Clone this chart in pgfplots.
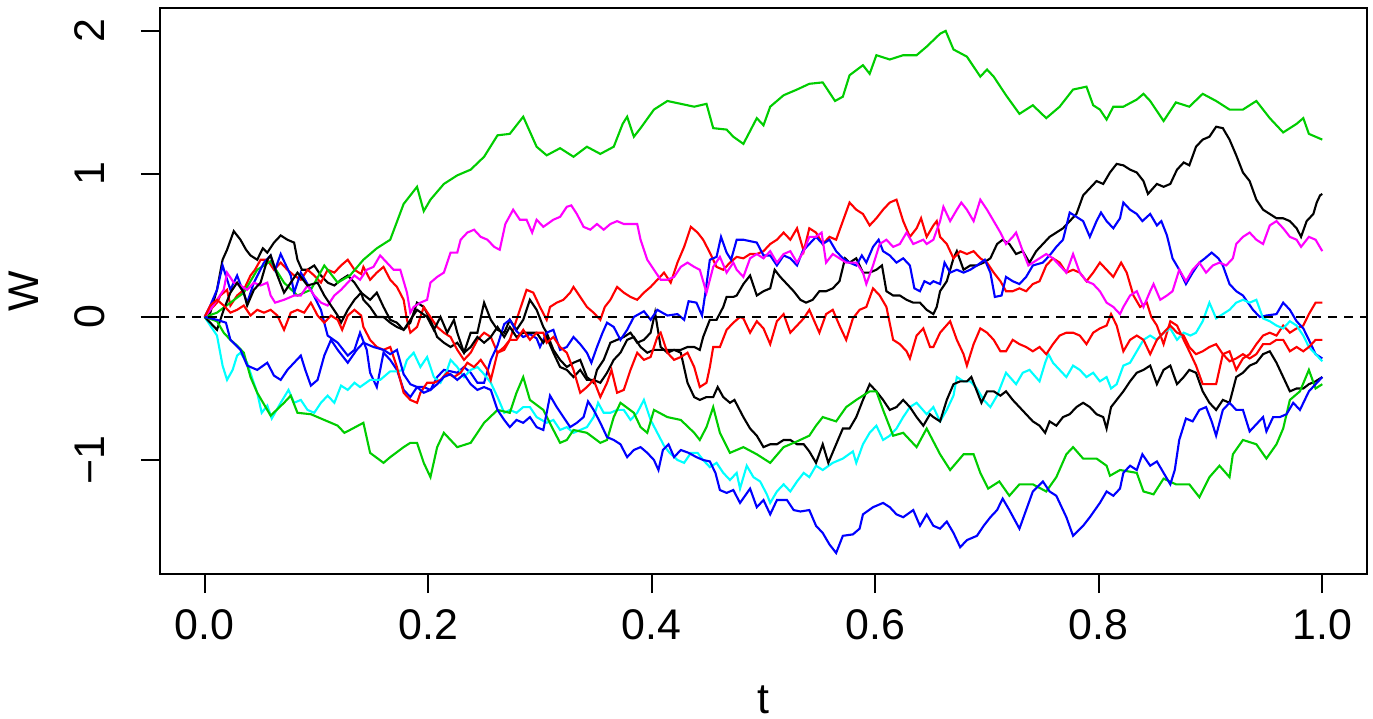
\documentclass[border=0pt]{standalone}
\usepackage{fontspec}
\setmainfont{Liberation Sans}
\usepackage{pgfplots}
\pgfplotsset{compat=1.18}
\definecolor{green3}{RGB}{0,205,0}
\definecolor{rcyan}{RGB}{0,255,255}
\definecolor{rmagenta}{RGB}{255,0,255}
\definecolor{rred}{RGB}{255,0,0}
\definecolor{rblue}{RGB}{0,0,255}

\begin{document}
\begin{tikzpicture}
\begin{axis}[
    name=ax,
    scale only axis,
    width=12.07cm, height=5.66cm,
    xmin=-0.04, xmax=1.04, ymin=-1.797, ymax=2.16,
    axis line style={line width=0.6pt},
    tick align=outside,
    major tick length=0.19cm,
    tick style={line width=0.6pt, black},
    xtick pos=bottom, ytick pos=left,
    xtick={0,0.2,0.4,0.6,0.8,1},
    xticklabels={0.0,0.2,0.4,0.6,0.8,1.0},
    ytick={-1,0,1,2},
    yticklabels={−1,0,1,2},
    ticklabel style={font=\fontsize{12.2pt}{14pt}\selectfont},
    xticklabel style={anchor=north, inner sep=0pt, yshift=-0.16cm},
    yticklabel style={xshift=-0.36cm, rotate=90, anchor=base, inner sep=0pt},
    xlabel={t}, ylabel={W},
    label style={font=\fontsize{12.2pt}{14pt}\selectfont},
    xlabel style={at={(axis description cs:0.5,-0.247)}, anchor=base, inner sep=0pt},
    ylabel style={at={(axis description cs:-0.1003,0.5)}, anchor=base, inner sep=0pt},
    every axis plot/.append style={line width=0.6pt},
]
% black 1
\addplot[black] coordinates {
(0,0)(0.005,0.03)(0.011,0.19)(0.016,0.40)(0.020,0.47)(0.026,0.60)(0.032,0.54)(0.037,0.47)(0.041,0.43)(0.047,0.40)(0.052,0.48)(0.056,0.45)(0.062,0.52)(0.068,0.57)(0.074,0.54)(0.080,0.52)(0.083,0.40)(0.087,0.33)(0.092,0.33)(0.098,0.36)(0.104,0.29)(0.110,0.24)(0.116,0.22)(0.122,0.26)(0.128,0.29)(0.134,0.24)(0.140,0.17)(0.148,0.12)(0.154,0.17)(0.160,0.07)(0.166,-0.02)(0.172,-0.04)(0.178,-0.09)(0.184,-0.04)(0.190,0.10)(0.196,0.07)(0.202,-0.02)(0.208,-0.14)(0.214,-0.18)(0.220,-0.21)(0.226,-0.18)(0.232,-0.25)(0.238,-0.11)(0.244,-0.11)(0.250,0.10)(0.256,-0.02)(0.262,-0.09)(0.268,-0.11)(0.273,-0.02)(0.279,-0.09)(0.285,-0.02)(0.291,0.12)(0.297,0.05)(0.303,-0.07)(0.306,-0.11)(0.312,-0.23)(0.318,-0.30)(0.324,-0.35)(0.330,-0.32)(0.336,-0.30)(0.342,-0.42)(0.348,-0.46)(0.351,-0.37)(0.357,-0.30)(0.363,-0.18)(0.369,-0.16)(0.375,-0.14)(0.381,-0.11)(0.387,-0.18)(0.393,-0.16)(0.399,-0.11)(0.403,0.03)(0.408,-0.21)(0.414,-0.25)(0.420,-0.23)(0.426,-0.23)(0.432,-0.21)(0.438,-0.21)(0.443,-0.23)(0.446,-0.14)(0.452,-0.02)(0.458,-0.02)(0.464,0.07)(0.467,0.14)(0.473,0.14)(0.476,0.15)(0.482,0.23)(0.488,0.29)(0.494,0.15)(0.500,0.18)(0.506,0.20)(0.510,0.33)(0.515,0.28)(0.521,0.23)(0.527,0.18)(0.533,0.12)(0.538,0.10)(0.544,0.12)(0.550,0.18)(0.556,0.18)(0.562,0.20)(0.568,0.25)(0.573,0.41)(0.577,0.38)(0.583,0.41)(0.589,0.31)(0.595,0.31)(0.601,0.33)(0.606,0.36)(0.610,0.18)(0.616,0.15)(0.622,0.15)(0.628,0.12)(0.634,0.10)(0.640,0.10)(0.646,0.05)(0.652,0.02)(0.655,0.07)(0.658,0.18)(0.664,0.25)(0.670,0.41)(0.673,0.46)(0.679,0.33)(0.685,0.36)(0.691,0.36)(0.697,0.38)(0.703,0.41)(0.709,0.51)(0.714,0.54)(0.720,0.51)(0.726,0.44)(0.732,0.46)(0.738,0.38)(0.744,0.46)(0.750,0.51)(0.756,0.56)(0.762,0.59)(0.768,0.62)(0.774,0.67)(0.780,0.72)(0.786,0.85)(0.792,0.90)(0.798,0.95)(0.804,0.93)(0.810,1.01)(0.816,1.07)(0.822,1.06)(0.828,1.03)(0.834,1.01)(0.840,0.95)(0.844,0.86)(0.852,0.93)(0.858,0.91)(0.864,0.93)(0.870,1.03)(0.876,1.08)(0.881,1.06)(0.887,1.19)(0.893,1.24)(0.899,1.26)(0.905,1.33)(0.911,1.32)(0.917,1.24)(0.923,1.13)(0.929,1.01)(0.935,0.95)(0.941,0.82)(0.947,0.75)(0.953,0.72)(0.959,0.69)(0.965,0.69)(0.971,0.67)(0.977,0.62)(0.981,0.56)(0.986,0.67)(0.992,0.72)(0.995,0.80)(0.998,0.85)(1.000,0.86)
};
% red 1
\addplot[rred] coordinates {
(0,0)(0.005,0.05)(0.011,0.10)(0.014,0.15)(0.020,0.19)(0.023,0.08)(0.029,0.15)(0.035,0.19)(0.041,0.29)(0.045,0.33)(0.050,0.40)(0.056,0.40)(0.062,0.33)(0.068,0.38)(0.074,0.33)(0.080,0.29)(0.086,0.26)(0.092,0.33)(0.098,0.29)(0.104,0.24)(0.110,0.33)(0.116,0.31)(0.122,0.36)(0.128,0.40)(0.134,0.33)(0.140,0.30)(0.142,0.35)(0.148,0.26)(0.154,0.31)(0.160,0.35)(0.166,0.26)(0.172,0.21)(0.178,0.12)(0.181,-0.02)(0.184,-0.11)(0.190,-0.07)(0.196,0.07)(0.202,0.00)(0.208,-0.07)(0.214,-0.11)(0.220,-0.14)(0.226,-0.23)(0.232,-0.30)(0.238,-0.25)(0.244,-0.16)(0.250,-0.11)(0.256,-0.14)(0.262,-0.25)(0.268,-0.21)(0.273,-0.16)(0.279,-0.02)(0.285,0.12)(0.288,0.19)(0.294,0.17)(0.300,0.07)(0.306,-0.02)(0.309,0.07)(0.315,0.10)(0.321,0.12)(0.327,0.17)(0.330,0.21)(0.336,0.14)(0.342,0.07)(0.348,0.03)(0.354,-0.02)(0.358,0.07)(0.363,0.12)(0.369,0.21)(0.375,0.17)(0.381,0.14)(0.387,0.12)(0.393,0.17)(0.399,0.21)(0.405,0.26)(0.411,0.31)(0.417,0.24)(0.423,0.38)(0.429,0.49)(0.435,0.63)(0.441,0.59)(0.446,0.54)(0.452,0.45)(0.458,0.35)(0.464,0.33)(0.470,0.38)(0.476,0.42)(0.482,0.41)(0.488,0.44)(0.494,0.44)(0.500,0.46)(0.506,0.51)(0.512,0.54)(0.518,0.59)(0.524,0.54)(0.530,0.62)(0.536,0.46)(0.541,0.62)(0.547,0.59)(0.553,0.51)(0.559,0.56)(0.565,0.54)(0.571,0.67)(0.577,0.80)(0.583,0.75)(0.589,0.72)(0.595,0.64)(0.601,0.69)(0.607,0.75)(0.613,0.80)(0.619,0.82)(0.625,0.67)(0.631,0.56)(0.637,0.62)(0.641,0.69)(0.646,0.56)(0.652,0.64)(0.655,0.67)(0.658,0.56)(0.664,0.51)(0.670,0.41)(0.676,0.46)(0.682,0.44)(0.688,0.46)(0.694,0.41)(0.700,0.38)(0.706,0.31)(0.712,0.25)(0.717,0.18)(0.723,0.18)(0.729,0.20)(0.735,0.18)(0.741,0.23)(0.747,0.25)(0.753,0.36)(0.759,0.41)(0.765,0.38)(0.771,0.31)(0.777,0.33)(0.783,0.31)(0.789,0.25)(0.795,0.31)(0.801,0.38)(0.807,0.33)(0.813,0.28)(0.820,0.38)(0.825,0.31)(0.831,0.15)(0.837,0.07)(0.843,0.10)(0.847,0.00)(0.852,-0.06)(0.858,-0.19)(0.864,-0.03)(0.870,-0.06)(0.876,-0.16)(0.881,-0.24)(0.887,-0.34)(0.893,-0.47)(0.899,-0.47)(0.905,-0.47)(0.911,-0.26)(0.917,-0.24)(0.923,-0.37)(0.929,-0.29)(0.935,-0.26)(0.941,-0.19)(0.947,-0.13)(0.953,-0.11)(0.959,-0.13)(0.965,-0.06)(0.971,-0.11)(0.977,-0.08)(0.983,-0.06)(0.988,0.02)(0.994,0.10)(1.000,0.10)
};
% green 1
\addplot[green3] coordinates {
(0,0)(0.011,0.03)(0.023,0.10)(0.035,0.17)(0.047,0.33)(0.059,0.39)(0.071,0.24)(0.083,0.15)(0.095,0.19)(0.107,0.36)(0.119,0.24)(0.130,0.29)(0.142,0.40)(0.154,0.48)(0.166,0.54)(0.178,0.79)(0.190,0.91)(0.196,0.74)(0.202,0.82)(0.214,0.93)(0.226,0.99)(0.238,1.03)(0.250,1.12)(0.262,1.27)(0.273,1.28)(0.285,1.40)(0.297,1.19)(0.306,1.13)(0.318,1.18)(0.330,1.12)(0.342,1.19)(0.354,1.14)(0.366,1.19)(0.374,1.35)(0.378,1.40)(0.384,1.26)(0.390,1.32)(0.402,1.45)(0.414,1.51)(0.426,1.49)(0.438,1.47)(0.449,1.49)(0.455,1.32)(0.467,1.31)(0.473,1.26)(0.482,1.21)(0.494,1.39)(0.500,1.34)(0.506,1.47)(0.518,1.55)(0.530,1.59)(0.541,1.63)(0.553,1.64)(0.564,1.51)(0.571,1.54)(0.577,1.69)(0.589,1.76)(0.595,1.70)(0.601,1.83)(0.613,1.80)(0.625,1.83)(0.637,1.83)(0.646,1.89)(0.658,1.98)(0.663,2.00)(0.670,1.87)(0.682,1.82)(0.694,1.68)(0.700,1.73)(0.706,1.68)(0.717,1.55)(0.729,1.42)(0.741,1.48)(0.753,1.39)(0.765,1.47)(0.777,1.59)(0.789,1.61)(0.795,1.48)(0.801,1.45)(0.807,1.38)(0.813,1.47)(0.822,1.47)(0.834,1.52)(0.840,1.56)(0.846,1.51)(0.858,1.37)(0.869,1.50)(0.881,1.47)(0.893,1.56)(0.905,1.51)(0.917,1.45)(0.929,1.45)(0.941,1.51)(0.953,1.39)(0.965,1.29)(0.977,1.35)(0.983,1.39)(0.988,1.28)(1.000,1.24)
};
% blue 1
\addplot[rblue] coordinates {
(0,0)(0.005,0.08)(0.011,0.19)(0.016,0.36)(0.023,0.19)(0.029,0.29)(0.038,0.10)(0.044,0.24)(0.053,0.38)(0.059,0.43)(0.063,0.33)(0.068,0.44)(0.077,0.29)(0.080,0.17)(0.086,0.31)(0.095,0.19)(0.104,0.05)(0.110,-0.13)(0.119,-0.18)(0.128,-0.27)(0.134,-0.23)(0.139,-0.11)(0.145,-0.23)(0.148,-0.39)(0.154,-0.49)(0.160,-0.25)(0.166,-0.30)(0.172,-0.37)(0.178,-0.51)(0.184,-0.56)(0.190,-0.49)(0.196,-0.49)(0.202,-0.51)(0.208,-0.42)(0.214,-0.37)(0.226,-0.39)(0.232,-0.35)(0.238,-0.39)(0.244,-0.46)(0.250,-0.46)(0.256,-0.30)(0.262,-0.20)(0.268,-0.05)(0.273,-0.02)(0.279,-0.10)(0.285,-0.14)(0.291,-0.12)(0.297,-0.15)(0.300,-0.21)(0.306,-0.11)(0.312,-0.09)(0.318,-0.23)(0.324,-0.21)(0.330,-0.14)(0.336,-0.19)(0.342,-0.25)(0.346,-0.32)(0.351,-0.21)(0.356,-0.11)(0.360,-0.04)(0.366,-0.07)(0.372,-0.16)(0.378,-0.09)(0.384,0.00)(0.393,0.04)(0.399,-0.02)(0.405,0.05)(0.414,0.01)(0.423,0.02)(0.429,-0.02)(0.433,0.11)(0.440,0.10)(0.445,0.01)(0.448,0.17)(0.452,0.40)(0.458,0.42)(0.462,0.56)(0.467,0.45)(0.471,0.40)(0.476,0.54)(0.482,0.54)(0.488,0.53)(0.494,0.52)(0.500,0.43)(0.506,0.43)(0.512,0.36)(0.518,0.43)(0.524,0.41)(0.530,0.36)(0.535,0.46)(0.541,0.51)(0.547,0.56)(0.553,0.51)(0.559,0.54)(0.565,0.46)(0.571,0.41)(0.577,0.38)(0.583,0.36)(0.588,0.43)(0.592,0.38)(0.598,0.49)(0.603,0.54)(0.607,0.46)(0.613,0.43)(0.619,0.38)(0.625,0.41)(0.631,0.36)(0.635,0.20)(0.640,0.18)(0.644,0.25)(0.649,0.23)(0.652,0.25)(0.658,0.23)(0.662,0.38)(0.667,0.31)(0.673,0.33)(0.679,0.31)(0.685,0.33)(0.691,0.36)(0.698,0.40)(0.703,0.31)(0.707,0.14)(0.713,0.15)(0.717,0.28)(0.723,0.25)(0.729,0.23)(0.735,0.28)(0.741,0.36)(0.750,0.38)(0.756,0.43)(0.762,0.49)(0.768,0.54)(0.774,0.73)(0.780,0.70)(0.786,0.67)(0.792,0.56)(0.798,0.67)(0.802,0.73)(0.807,0.67)(0.813,0.62)(0.819,0.69)(0.822,0.80)(0.828,0.75)(0.834,0.72)(0.839,0.67)(0.846,0.72)(0.852,0.64)(0.856,0.67)(0.861,0.57)(0.866,0.41)(0.872,0.33)(0.878,0.23)(0.884,0.31)(0.890,0.38)(0.895,0.41)(0.901,0.45)(0.907,0.41)(0.911,0.36)(0.917,0.23)(0.923,0.18)(0.929,0.15)(0.938,0.05)(0.944,0.00)(0.950,0.01)(0.959,0.02)(0.965,0.10)(0.971,0.05)(0.977,-0.03)(0.983,-0.08)(0.988,-0.16)(0.994,-0.26)(1.000,-0.29)
};
% cyan
\addplot[rcyan] coordinates {
(0,0)(0.005,-0.06)(0.011,-0.13)(0.016,-0.34)(0.020,-0.44)(0.025,-0.37)(0.029,-0.27)(0.032,-0.25)(0.038,-0.32)(0.043,-0.44)(0.047,-0.53)(0.051,-0.67)(0.056,-0.62)(0.060,-0.71)(0.068,-0.60)(0.075,-0.51)(0.080,-0.60)(0.086,-0.58)(0.092,-0.65)(0.098,-0.67)(0.104,-0.60)(0.110,-0.55)(0.116,-0.60)(0.122,-0.48)(0.128,-0.51)(0.134,-0.46)(0.139,-0.49)(0.148,-0.44)(0.157,-0.44)(0.166,-0.38)(0.172,-0.38)(0.178,-0.37)(0.181,-0.30)(0.187,-0.25)(0.193,-0.35)(0.199,-0.28)(0.205,-0.42)(0.211,-0.46)(0.217,-0.37)(0.220,-0.30)(0.226,-0.35)(0.232,-0.42)(0.238,-0.37)(0.244,-0.35)(0.250,-0.40)(0.256,-0.46)(0.262,-0.56)(0.268,-0.67)(0.273,-0.65)(0.279,-0.67)(0.285,-0.63)(0.291,-0.63)(0.297,-0.70)(0.306,-0.74)(0.312,-0.72)(0.318,-0.79)(0.324,-0.77)(0.330,-0.81)(0.336,-0.79)(0.342,-0.77)(0.348,-0.70)(0.352,-0.60)(0.357,-0.67)(0.363,-0.67)(0.369,-0.65)(0.375,-0.65)(0.381,-0.72)(0.387,-0.67)(0.393,-0.58)(0.399,-0.72)(0.405,-0.81)(0.411,-0.90)(0.416,-0.95)(0.423,-1.00)(0.429,-1.02)(0.435,-0.95)(0.441,-0.95)(0.446,-1.00)(0.452,-1.05)(0.458,-1.02)(0.464,-1.09)(0.470,-1.14)(0.476,-1.09)(0.479,-1.20)(0.485,-1.04)(0.491,-1.12)(0.497,-1.15)(0.503,-1.24)(0.506,-1.30)(0.512,-1.22)(0.518,-1.17)(0.524,-1.22)(0.530,-1.15)(0.536,-1.09)(0.541,-1.12)(0.547,-1.04)(0.553,-1.07)(0.562,-1.02)(0.571,-0.99)(0.580,-0.94)(0.583,-1.02)(0.589,-0.89)(0.595,-0.81)(0.601,-0.76)(0.607,-0.86)(0.613,-0.83)(0.619,-0.78)(0.625,-0.70)(0.631,-0.63)(0.637,-0.60)(0.646,-0.68)(0.652,-0.63)(0.658,-0.73)(0.664,-0.65)(0.670,-0.55)(0.673,-0.42)(0.679,-0.45)(0.685,-0.45)(0.691,-0.50)(0.697,-0.58)(0.703,-0.63)(0.709,-0.55)(0.713,-0.47)(0.717,-0.39)(0.726,-0.47)(0.732,-0.39)(0.738,-0.37)(0.747,-0.45)(0.752,-0.32)(0.755,-0.26)(0.759,-0.32)(0.765,-0.37)(0.771,-0.42)(0.777,-0.34)(0.783,-0.37)(0.789,-0.42)(0.795,-0.39)(0.801,-0.45)(0.807,-0.42)(0.811,-0.50)(0.816,-0.47)(0.822,-0.34)(0.828,-0.32)(0.834,-0.24)(0.840,-0.16)(0.846,-0.13)(0.852,-0.16)(0.858,-0.11)(0.864,-0.08)(0.870,-0.16)(0.876,-0.11)(0.882,-0.13)(0.887,-0.11)(0.893,-0.03)(0.899,0.10)(0.905,-0.01)(0.911,0.02)(0.917,0.05)(0.923,0.10)(0.929,0.12)(0.935,0.10)(0.941,0.12)(0.947,-0.01)(0.953,-0.03)(0.959,-0.06)(0.965,-0.08)(0.971,-0.03)(0.977,-0.06)(0.983,-0.13)(0.988,-0.21)(0.994,-0.26)(1.000,-0.31)
};
% magenta
\addplot[rmagenta] coordinates {
(0,0)(0.005,0.05)(0.011,0.12)(0.017,0.19)(0.020,0.31)(0.026,0.24)(0.032,0.22)(0.038,0.19)(0.044,0.24)(0.050,0.22)(0.056,0.24)(0.059,0.15)(0.063,0.10)(0.071,0.12)(0.080,0.15)(0.086,0.15)(0.092,0.22)(0.098,0.15)(0.104,0.10)(0.110,0.08)(0.116,0.15)(0.122,0.19)(0.128,0.24)(0.134,0.29)(0.139,0.26)(0.145,0.33)(0.151,0.35)(0.157,0.43)(0.163,0.38)(0.169,0.33)(0.175,0.33)(0.181,0.17)(0.184,0.03)(0.187,0.07)(0.193,0.10)(0.199,0.12)(0.202,0.24)(0.208,0.28)(0.214,0.31)(0.220,0.45)(0.226,0.45)(0.229,0.54)(0.235,0.59)(0.241,0.61)(0.247,0.56)(0.253,0.54)(0.259,0.49)(0.264,0.47)(0.269,0.65)(0.276,0.75)(0.282,0.68)(0.288,0.68)(0.293,0.59)(0.297,0.68)(0.303,0.63)(0.312,0.68)(0.318,0.70)(0.324,0.77)(0.328,0.78)(0.333,0.72)(0.339,0.63)(0.345,0.61)(0.351,0.65)(0.357,0.61)(0.363,0.65)(0.369,0.67)(0.375,0.65)(0.381,0.65)(0.387,0.65)(0.390,0.54)(0.396,0.40)(0.402,0.33)(0.408,0.26)(0.414,0.26)(0.420,0.28)(0.426,0.35)(0.432,0.38)(0.438,0.35)(0.443,0.33)(0.449,0.17)(0.455,0.35)(0.461,0.42)(0.467,0.31)(0.473,0.38)(0.476,0.33)(0.482,0.28)(0.488,0.41)(0.494,0.44)(0.500,0.41)(0.506,0.46)(0.512,0.38)(0.518,0.44)(0.524,0.46)(0.530,0.38)(0.536,0.46)(0.541,0.56)(0.547,0.56)(0.552,0.59)(0.556,0.38)(0.562,0.44)(0.568,0.41)(0.574,0.38)(0.583,0.38)(0.589,0.31)(0.592,0.23)(0.598,0.36)(0.604,0.51)(0.610,0.54)(0.616,0.49)(0.622,0.51)(0.628,0.59)(0.634,0.51)(0.643,0.54)(0.646,0.51)(0.652,0.54)(0.658,0.67)(0.661,0.77)(0.667,0.67)(0.673,0.75)(0.677,0.80)(0.682,0.75)(0.688,0.67)(0.694,0.82)(0.700,0.75)(0.706,0.67)(0.712,0.59)(0.717,0.51)(0.723,0.56)(0.726,0.59)(0.732,0.46)(0.737,0.36)(0.741,0.38)(0.747,0.41)(0.753,0.44)(0.759,0.41)(0.765,0.36)(0.771,0.31)(0.777,0.44)(0.783,0.31)(0.789,0.25)(0.795,0.23)(0.801,0.18)(0.807,0.10)(0.813,0.07)(0.819,0.02)(0.822,0.07)(0.828,0.15)(0.834,0.18)(0.840,0.07)(0.846,0.18)(0.849,0.23)(0.855,0.12)(0.861,0.15)(0.866,0.18)(0.872,0.33)(0.878,0.25)(0.884,0.33)(0.890,0.38)(0.896,0.31)(0.902,0.36)(0.908,0.38)(0.914,0.36)(0.920,0.41)(0.923,0.51)(0.929,0.56)(0.935,0.59)(0.941,0.54)(0.947,0.51)(0.953,0.64)(0.959,0.67)(0.965,0.62)(0.971,0.56)(0.977,0.54)(0.981,0.49)(0.988,0.56)(0.994,0.54)(1.000,0.46)
};
% black 2
\addplot[black] coordinates {
(0,0)(0.005,-0.04)(0.011,-0.09)(0.017,0.05)(0.023,0.17)(0.029,0.24)(0.035,0.17)(0.038,0.08)(0.044,0.19)(0.050,0.24)(0.056,0.40)(0.059,0.43)(0.065,0.29)(0.071,0.17)(0.077,0.24)(0.083,0.31)(0.092,0.22)(0.101,0.24)(0.107,0.15)(0.113,0.08)(0.119,0.01)(0.122,-0.04)(0.128,0.05)(0.134,0.12)(0.140,0.17)(0.142,0.12)(0.148,0.07)(0.154,0.00)(0.160,0.00)(0.166,-0.04)(0.172,-0.07)(0.178,-0.09)(0.184,-0.02)(0.190,0.05)(0.199,0.00)(0.205,-0.09)(0.211,0.00)(0.217,-0.11)(0.223,-0.02)(0.226,-0.11)(0.232,-0.25)(0.238,-0.21)(0.244,-0.14)(0.250,-0.18)(0.256,-0.14)(0.262,-0.07)(0.268,-0.14)(0.273,-0.07)(0.279,-0.14)(0.285,-0.11)(0.297,-0.11)(0.303,-0.18)(0.306,-0.14)(0.312,-0.25)(0.318,-0.35)(0.324,-0.37)(0.330,-0.42)(0.336,-0.37)(0.342,-0.44)(0.348,-0.44)(0.354,-0.46)(0.360,-0.39)(0.366,-0.30)(0.372,-0.25)(0.378,-0.16)(0.384,-0.14)(0.390,-0.21)(0.396,-0.25)(0.402,-0.23)(0.408,-0.23)(0.414,-0.23)(0.420,-0.23)(0.426,-0.25)(0.432,-0.46)(0.438,-0.56)(0.443,-0.58)(0.449,-0.56)(0.455,-0.56)(0.459,-0.49)(0.464,-0.56)(0.470,-0.60)(0.474,-0.58)(0.482,-0.70)(0.488,-0.78)(0.494,-0.83)(0.500,-0.91)(0.506,-0.89)(0.512,-0.89)(0.518,-0.86)(0.524,-0.86)(0.530,-0.89)(0.536,-0.89)(0.541,-0.94)(0.547,-1.02)(0.553,-0.89)(0.558,-1.02)(0.565,-0.89)(0.571,-0.78)(0.577,-0.78)(0.583,-0.70)(0.589,-0.58)(0.595,-0.47)(0.601,-0.52)(0.607,-0.58)(0.613,-0.65)(0.619,-0.63)(0.625,-0.58)(0.631,-0.63)(0.637,-0.70)(0.643,-0.76)(0.649,-0.68)(0.652,-0.70)(0.658,-0.73)(0.664,-0.58)(0.670,-0.47)(0.676,-0.45)(0.682,-0.45)(0.686,-0.42)(0.691,-0.52)(0.695,-0.60)(0.700,-0.52)(0.706,-0.52)(0.712,-0.55)(0.717,-0.52)(0.723,-0.58)(0.729,-0.63)(0.735,-0.68)(0.741,-0.73)(0.747,-0.76)(0.752,-0.81)(0.756,-0.73)(0.762,-0.76)(0.768,-0.70)(0.774,-0.68)(0.780,-0.63)(0.786,-0.60)(0.792,-0.63)(0.798,-0.68)(0.804,-0.70)(0.807,-0.78)(0.811,-0.63)(0.816,-0.58)(0.822,-0.52)(0.828,-0.45)(0.834,-0.39)(0.840,-0.37)(0.846,-0.34)(0.852,-0.47)(0.858,-0.37)(0.864,-0.34)(0.870,-0.47)(0.876,-0.42)(0.881,-0.37)(0.887,-0.39)(0.893,-0.52)(0.899,-0.60)(0.905,-0.65)(0.911,-0.58)(0.917,-0.60)(0.923,-0.42)(0.929,-0.39)(0.935,-0.34)(0.941,-0.32)(0.947,-0.26)(0.953,-0.24)(0.959,-0.32)(0.965,-0.42)(0.971,-0.52)(0.977,-0.50)(0.983,-0.50)(0.988,-0.47)(0.994,-0.45)(1.000,-0.42)
};
% red 2
\addplot[rred] coordinates {
(0,0)(0.005,0.08)(0.011,0.12)(0.017,0.08)(0.023,0.03)(0.029,0.05)(0.035,0.08)(0.041,0.01)(0.047,0.05)(0.053,0.03)(0.059,0.05)(0.065,0.01)(0.071,-0.09)(0.077,0.03)(0.083,0.05)(0.089,0.03)(0.095,0.10)(0.101,0.01)(0.107,-0.04)(0.113,0.01)(0.119,-0.02)(0.123,-0.09)(0.128,0.01)(0.134,0.05)(0.140,0.01)(0.142,-0.07)(0.148,-0.16)(0.154,-0.21)(0.160,-0.23)(0.166,-0.21)(0.172,-0.35)(0.178,-0.53)(0.184,-0.58)(0.190,-0.60)(0.193,-0.53)(0.199,-0.46)(0.205,-0.46)(0.211,-0.44)(0.217,-0.39)(0.223,-0.42)(0.229,-0.39)(0.235,-0.32)(0.241,-0.35)(0.247,-0.30)(0.253,-0.37)(0.256,-0.44)(0.262,-0.25)(0.268,-0.23)(0.273,-0.16)(0.279,-0.16)(0.285,-0.09)(0.291,-0.16)(0.297,-0.11)(0.303,-0.11)(0.306,-0.18)(0.312,-0.14)(0.318,-0.21)(0.324,-0.25)(0.330,-0.37)(0.336,-0.53)(0.342,-0.49)(0.348,-0.44)(0.354,-0.56)(0.360,-0.46)(0.364,-0.37)(0.369,-0.53)(0.375,-0.51)(0.381,-0.37)(0.387,-0.25)(0.393,-0.30)(0.399,-0.28)(0.405,-0.14)(0.408,-0.11)(0.414,-0.25)(0.420,-0.30)(0.426,-0.28)(0.432,-0.25)(0.438,-0.35)(0.443,-0.49)(0.449,-0.46)(0.452,-0.35)(0.455,-0.21)(0.461,-0.21)(0.467,-0.09)(0.473,-0.04)(0.479,0.00)(0.482,-0.01)(0.488,-0.11)(0.494,-0.03)(0.500,-0.08)(0.506,-0.19)(0.512,-0.03)(0.518,0.02)(0.524,-0.11)(0.530,-0.06)(0.536,-0.01)(0.541,0.05)(0.550,-0.11)(0.556,0.02)(0.562,0.05)(0.568,-0.06)(0.574,-0.16)(0.580,-0.01)(0.586,0.05)(0.592,0.07)(0.598,0.20)(0.604,0.15)(0.610,0.07)(0.616,-0.16)(0.622,-0.19)(0.628,-0.24)(0.631,-0.29)(0.637,-0.13)(0.643,-0.08)(0.649,-0.21)(0.652,-0.21)(0.658,-0.11)(0.667,-0.03)(0.673,-0.16)(0.679,-0.26)(0.682,-0.34)(0.688,-0.19)(0.694,-0.08)(0.700,-0.11)(0.706,-0.16)(0.712,-0.24)(0.717,-0.24)(0.723,-0.16)(0.729,-0.19)(0.735,-0.21)(0.741,-0.24)(0.747,-0.21)(0.753,-0.26)(0.759,-0.19)(0.765,-0.13)(0.771,-0.11)(0.777,-0.11)(0.783,-0.13)(0.789,-0.19)(0.795,-0.11)(0.801,-0.08)(0.807,-0.06)(0.811,0.02)(0.816,-0.06)(0.822,-0.24)(0.828,-0.16)(0.834,-0.13)(0.840,-0.16)(0.846,-0.26)(0.852,-0.16)(0.858,-0.11)(0.864,-0.06)(0.870,-0.11)(0.876,-0.13)(0.881,-0.21)(0.887,-0.26)(0.893,-0.24)(0.899,-0.21)(0.905,-0.19)(0.911,-0.26)(0.917,-0.31)(0.923,-0.29)(0.929,-0.26)(0.935,-0.29)(0.941,-0.26)(0.947,-0.19)(0.953,-0.19)(0.959,-0.16)(0.965,-0.16)(0.971,-0.24)(0.977,-0.21)(0.983,-0.24)(0.988,-0.21)(0.994,-0.16)(1.000,-0.16)
};
% green 2
\addplot[green3] coordinates {
(0,0)(0.011,-0.03)(0.017,-0.11)(0.023,-0.16)(0.029,-0.20)(0.035,-0.25)(0.041,-0.42)(0.047,-0.53)(0.059,-0.69)(0.071,-0.60)(0.077,-0.55)(0.083,-0.67)(0.095,-0.68)(0.107,-0.72)(0.119,-0.76)(0.125,-0.81)(0.130,-0.79)(0.142,-0.74)(0.148,-0.95)(0.160,-1.02)(0.166,-0.98)(0.178,-0.91)(0.184,-0.88)(0.190,-0.88)(0.196,-1.02)(0.202,-1.12)(0.208,-0.91)(0.214,-0.81)(0.226,-0.91)(0.238,-0.88)(0.250,-0.74)(0.262,-0.65)(0.273,-0.67)(0.279,-0.53)(0.285,-0.42)(0.291,-0.58)(0.303,-0.65)(0.312,-0.79)(0.318,-0.88)(0.324,-0.86)(0.330,-0.79)(0.342,-0.81)(0.354,-0.88)(0.360,-0.86)(0.366,-0.70)(0.372,-0.60)(0.384,-0.67)(0.390,-0.77)(0.396,-0.81)(0.402,-0.65)(0.414,-0.70)(0.426,-0.72)(0.438,-0.81)(0.443,-0.86)(0.449,-0.77)(0.455,-0.63)(0.461,-0.81)(0.470,-0.95)(0.482,-0.91)(0.494,-0.96)(0.506,-1.02)(0.518,-0.91)(0.530,-0.87)(0.541,-0.83)(0.547,-0.76)(0.553,-0.70)(0.565,-0.73)(0.574,-0.63)(0.583,-0.58)(0.595,-0.52)(0.601,-0.52)(0.607,-0.65)(0.616,-0.83)(0.625,-0.81)(0.637,-0.91)(0.646,-0.78)(0.658,-0.96)(0.667,-1.07)(0.679,-0.96)(0.688,-0.96)(0.694,-1.09)(0.701,-1.20)(0.711,-1.15)(0.720,-1.25)(0.729,-1.17)(0.741,-1.17)(0.753,-1.22)(0.762,-1.12)(0.771,-0.96)(0.777,-0.91)(0.786,-0.99)(0.798,-0.99)(0.807,-1.04)(0.810,-1.11)(0.819,-1.07)(0.834,-1.09)(0.840,-1.22)(0.849,-1.24)(0.858,-1.13)(0.869,-1.17)(0.881,-1.17)(0.890,-1.26)(0.899,-1.12)(0.908,-1.04)(0.917,-1.12)(0.920,-0.96)(0.929,-0.86)(0.941,-0.89)(0.950,-0.99)(0.959,-0.89)(0.965,-0.78)(0.971,-0.58)(0.980,-0.52)(0.988,-0.37)(0.994,-0.50)(1.000,-0.47)
};
% blue 2
\addplot[rblue] coordinates {
(0,0)(0.011,-0.02)(0.019,-0.04)(0.023,-0.16)(0.032,-0.23)(0.038,-0.34)(0.047,-0.37)(0.056,-0.32)(0.062,-0.41)(0.068,-0.44)(0.074,-0.37)(0.080,-0.32)(0.086,-0.27)(0.090,-0.37)(0.095,-0.48)(0.101,-0.44)(0.107,-0.27)(0.113,-0.16)(0.119,-0.23)(0.128,-0.32)(0.136,-0.23)(0.142,-0.18)(0.151,-0.21)(0.160,-0.23)(0.166,-0.26)(0.172,-0.23)(0.178,-0.40)(0.184,-0.47)(0.190,-0.49)(0.196,-0.53)(0.202,-0.51)(0.208,-0.47)(0.214,-0.42)(0.220,-0.40)(0.226,-0.44)(0.232,-0.40)(0.238,-0.47)(0.244,-0.51)(0.250,-0.49)(0.256,-0.51)(0.262,-0.65)(0.268,-0.72)(0.273,-0.77)(0.279,-0.72)(0.285,-0.74)(0.291,-0.70)(0.297,-0.77)(0.303,-0.79)(0.306,-0.67)(0.309,-0.55)(0.315,-0.63)(0.321,-0.70)(0.327,-0.77)(0.333,-0.74)(0.339,-0.70)(0.343,-0.59)(0.348,-0.65)(0.354,-0.74)(0.360,-0.84)(0.366,-0.86)(0.372,-0.89)(0.378,-0.98)(0.384,-0.93)(0.390,-0.91)(0.396,-0.95)(0.402,-1.00)(0.406,-1.07)(0.410,-0.93)(0.415,-0.89)(0.420,-0.98)(0.426,-0.93)(0.433,-0.95)(0.440,-0.98)(0.446,-1.00)(0.452,-1.01)(0.457,-1.09)(0.461,-1.21)(0.467,-1.23)(0.473,-1.21)(0.479,-1.30)(0.488,-1.20)(0.494,-1.33)(0.500,-1.28)(0.506,-1.38)(0.512,-1.28)(0.521,-1.28)(0.527,-1.35)(0.533,-1.36)(0.541,-1.35)(0.547,-1.46)(0.553,-1.51)(0.559,-1.59)(0.565,-1.65)(0.571,-1.53)(0.580,-1.52)(0.586,-1.48)(0.589,-1.38)(0.598,-1.33)(0.607,-1.30)(0.613,-1.33)(0.619,-1.38)(0.625,-1.40)(0.634,-1.35)(0.640,-1.46)(0.646,-1.38)(0.652,-1.46)(0.658,-1.48)(0.664,-1.43)(0.670,-1.51)(0.676,-1.61)(0.682,-1.56)(0.691,-1.53)(0.697,-1.46)(0.703,-1.40)(0.709,-1.35)(0.714,-1.27)(0.720,-1.35)(0.729,-1.48)(0.735,-1.35)(0.741,-1.22)(0.750,-1.15)(0.756,-1.22)(0.762,-1.25)(0.771,-1.40)(0.777,-1.53)(0.786,-1.46)(0.792,-1.40)(0.801,-1.30)(0.807,-1.22)(0.813,-1.25)(0.819,-1.20)(0.822,-1.09)(0.828,-1.04)(0.834,-1.07)(0.839,-0.96)(0.846,-1.04)(0.852,-1.01)(0.858,-1.09)(0.864,-1.17)(0.868,-1.07)(0.872,-0.86)(0.878,-0.71)(0.884,-0.73)(0.890,-0.65)(0.896,-0.63)(0.901,-0.73)(0.905,-0.83)(0.911,-0.65)(0.917,-0.60)(0.923,-0.65)(0.929,-0.65)(0.935,-0.80)(0.941,-0.75)(0.947,-0.70)(0.950,-0.80)(0.956,-0.70)(0.962,-0.70)(0.968,-0.68)(0.974,-0.60)(0.980,-0.65)(0.988,-0.52)(0.994,-0.47)(1.000,-0.42)
};
% zero line
\addplot[black, dash pattern=on 0.09cm off 0.07cm] coordinates {(-0.04,0) (1.04,0)};
\end{axis}
\pgfresetboundingbox
\path ([xshift=-1.60cm,yshift=-1.44cm]ax.south west) rectangle ([xshift=0.06cm,yshift=0.08cm]ax.north east);
\end{tikzpicture}
\end{document}
